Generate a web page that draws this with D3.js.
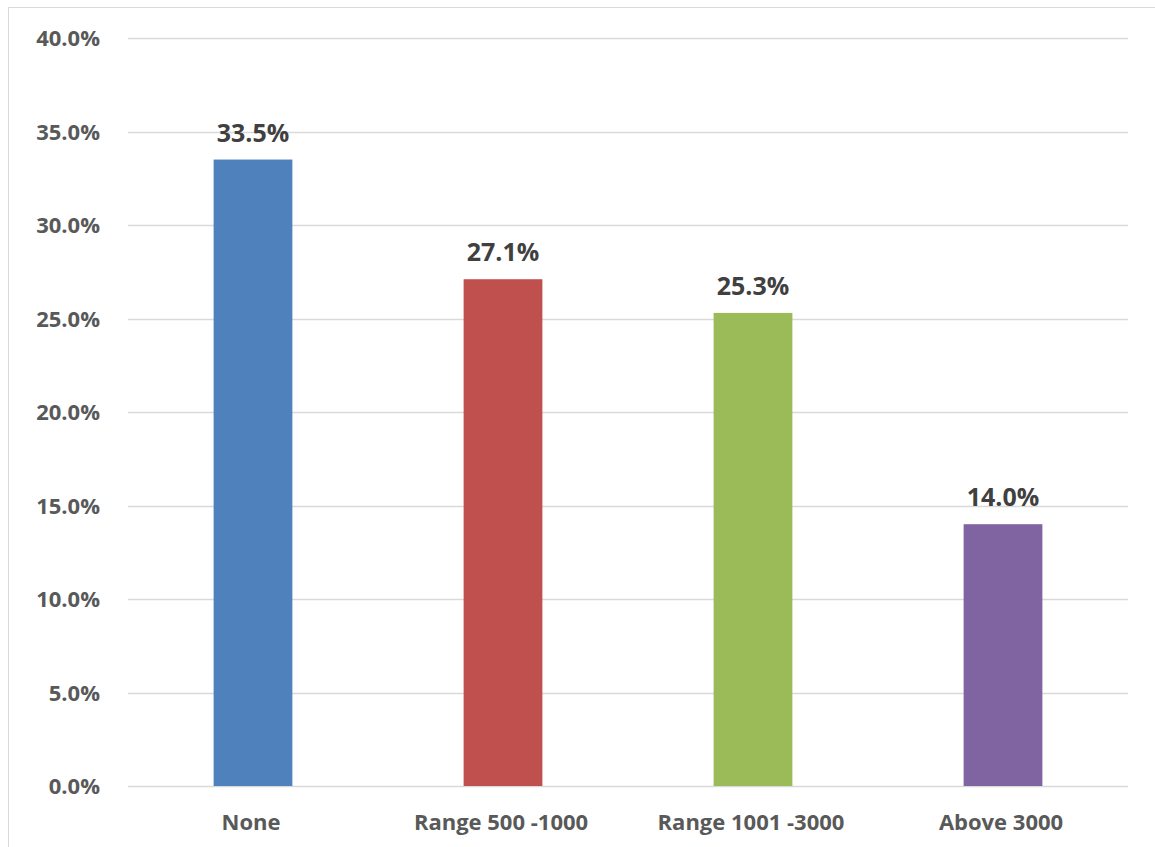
<!DOCTYPE html>
<html>
<head>
<meta charset="utf-8">
<script src="https://cdn.jsdelivr.net/npm/d3@7"></script>
<style>
  html, body { margin: 0; padding: 0; background: #fff; }
  svg { display: block; }
</style>
</head>
<body>
<svg id="chart" width="1155" height="847"></svg>
<script>
// Share of respondents by range
const categories = ["None", "Range 500 -1000", "Range 1001 -3000", "Above 3000"];
const values = [33.5, 27.1, 25.3, 14.0];
const colors = ["#4F81BD", "#C0504D", "#9BBB59", "#8064A2"];
const yTicks = [0, 5, 10, 15, 20, 25, 30, 35, 40];

const svg = d3.select("#chart");
const W = 1155, H = 847;
const font = "'Open Sans', sans-serif";

// chart frame
svg.append("rect")
  .attr("x", 8.5).attr("y", 7.5)
  .attr("width", W + 10).attr("height", H + 10)
  .attr("fill", "#fff").attr("stroke", "#d9d9d9").attr("stroke-width", 1);

const plot = { left: 128, right: 1128, top: 38, bottom: 786 };

const x = d3.scaleBand()
  .domain(categories)
  .range([plot.left, plot.right])
  .paddingInner(0.685)
  .paddingOuter(0.3425);

const y = d3.scaleLinear()
  .domain([0, 40])
  .range([plot.bottom, plot.top]);

// gridlines
svg.append("g")
  .selectAll("line")
  .data(yTicks)
  .join("line")
  .attr("x1", plot.left).attr("x2", plot.right)
  .attr("y1", d => Math.round(y(d)) + 0.5)
  .attr("y2", d => Math.round(y(d)) + 0.5)
  .attr("stroke", "#d9d9d9").attr("stroke-width", 1.3);

// y axis labels
const yAxis = svg.append("g")
  .attr("transform", `translate(${plot.left - 28},0)`)
  .call(d3.axisLeft(y).tickValues(yTicks).tickFormat(d => d.toFixed(1) + "%").tickSize(0).tickPadding(0));
yAxis.select(".domain").remove();
yAxis.selectAll("text")
  .attr("fill", "#595959")
  .style("font-family", font)
  .style("font-weight", "bold")
  .style("font-size", "22px")
  .attr("dy", "0.35em");

// bars
svg.append("g")
  .selectAll("rect")
  .data(values)
  .join("rect")
  .attr("x", (d, i) => x(categories[i]))
  .attr("width", x.bandwidth())
  .attr("y", d => y(d))
  .attr("height", d => y(0) - y(d))
  .attr("fill", (d, i) => colors[i]);

// value labels
svg.append("g")
  .selectAll("text")
  .data(values)
  .join("text")
  .attr("x", (d, i) => x(categories[i]) + x.bandwidth() / 2)
  .attr("y", d => y(d) - 18)
  .attr("text-anchor", "middle")
  .attr("fill", "#404040")
  .style("font-family", font)
  .style("font-weight", "bold")
  .style("font-size", "25px")
  .text(d => d.toFixed(1) + "%");

// x axis labels
const xAxis = svg.append("g")
  .attr("transform", `translate(0,${plot.bottom})`)
  .call(d3.axisBottom(x).tickSize(0).tickPadding(0));
xAxis.select(".domain").remove();
xAxis.selectAll("text")
  .attr("x", -2)
  .attr("y", 36)
  .attr("dy", "0.35em")
  .attr("fill", "#595959")
  .style("font-family", font)
  .style("font-weight", "bold")
  .style("font-size", "22px");
</script>
</body>
</html>
